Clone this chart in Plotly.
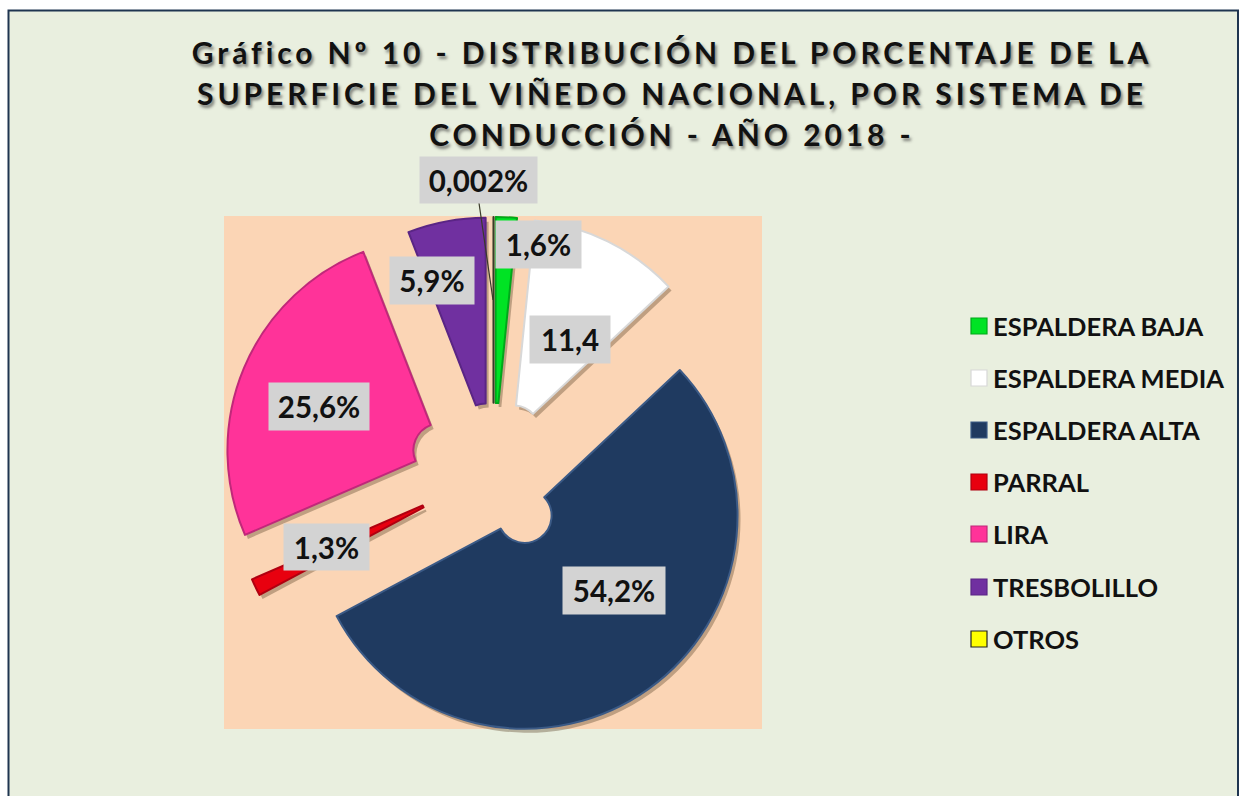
import plotly.graph_objects as go

W, H = 1245, 796

categories = ["ESPALDERA BAJA", "ESPALDERA MEDIA", "ESPALDERA ALTA", "PARRAL", "LIRA", "TRESBOLILLO", "OTROS"]
values = [1.6, 11.4, 54.2, 1.3, 25.6, 5.9, 0.002]
value_labels = ["1,6%", "11,4", "54,2%", "1,3%", "25,6%", "5,9%", "0,002%"]
colors = ["#00E324", "#FFFFFF", "#1F3A60", "#E8000F", "#FF3399", "#7030A0", "#FFFF00"]
edge_colors = ["#00A81A", "#D8D8D8", "#3B5A86", "#B00010", "#C0287A", "#5A2585", "#3A3A2A"]
pulls = [0.20, 0.21, 0.25, 0.24, 0.27, 0.20, 0.20]
title_lines = ["Gráfico Nº 10 - DISTRIBUCIÓN DEL PORCENTAJE DE LA",
               "SUPERFICIE DEL VIÑEDO NACIONAL, POR SISTEMA DE",
               "CONDUCCIÓN - AÑO 2018 -"]

label_boxes = [(538, 245, 85, 47), (570, 339, 80, 47), (614, 590, 102, 47),
               (326, 547, 85, 46), (319, 406, 100, 47), (432, 280, 84, 47), (479, 180, 117, 46)]
legend_ys = [326, 378, 430, 482, 534, 587, 639]


def px(x):
    return x / W


def py(y):
    return 1 - y / H


def pie_domain(dx=0, dy=0):
    return dict(x=[px(223 + dx), px(764 + dx)], y=[py(743 + dy), py(202 + dy)])


fig = go.Figure()
fig.add_trace(go.Pie(values=values, sort=False, direction="clockwise", rotation=0,
                     pull=pulls, hole=0.127, domain=pie_domain(3, 4), textinfo="none",
                     hoverinfo="skip", showlegend=False,
                     marker=dict(colors=["rgba(95,70,45,0.38)"] * 7, line=dict(width=0))))
fig.add_trace(go.Pie(labels=categories, values=values, sort=False, direction="clockwise", rotation=0,
                     pull=pulls, hole=0.127, domain=pie_domain(), textinfo="none", showlegend=False,
                     marker=dict(colors=colors, line=dict(color=edge_colors, width=2))))

shapes = [
    dict(type="rect", xref="paper", yref="paper", x0=px(8.5), x1=px(1238), y0=py(830), y1=py(10.5),
         fillcolor="#E9EFDF", line=dict(color="#1F3550", width=2), layer="below"),
    dict(type="rect", xref="paper", yref="paper", x0=px(224), x1=px(762), y0=py(729), y1=py(216),
         fillcolor="#FBD5B5", line=dict(width=0), layer="below"),
    dict(type="line", xref="paper", yref="paper", x0=px(479), x1=px(493), y0=py(203), y1=py(300),
         line=dict(color="#3A3A2A", width=1.2)),
]
annotations = []
for text, (cx, cy, bw, bh) in zip(value_labels, label_boxes):
    annotations.append(dict(text=text, xref="paper", yref="paper", x=px(cx), y=py(cy),
                            xanchor="center", yanchor="middle", showarrow=False,
                            width=bw, height=bh, bgcolor="#D3D3D3", borderpad=0,
                            font=dict(family="Lato", size=29.5, color="#111111", weight="bold")))
for name, color, edge, ly in zip(categories, colors, edge_colors, legend_ys):
    line_color = "#222222" if name == "OTROS" else edge
    shapes.append(dict(type="rect", xref="paper", yref="paper", x0=px(971), x1=px(987),
                       y0=py(ly + 8), y1=py(ly - 8), fillcolor=color,
                       line=dict(color=line_color, width=1.2)))
    annotations.append(dict(text=name, xref="paper", yref="paper", x=px(991), y=py(ly),
                            xanchor="left", yanchor="middle", showarrow=False,
                            font=dict(family="Lato", size=25.5, color="#111111", weight="bold")))

fig.update_layout(
    width=W, height=H, margin=dict(l=0, r=0, t=0, b=0), paper_bgcolor="#FFFFFF",
    showlegend=False, shapes=shapes, annotations=annotations,
    title=dict(text="<br>".join(title_lines), x=px(672), xanchor="center", y=py(64), yanchor="top",
               font=dict(family="Lato", size=30, color="#111111", weight="bold",
                         shadow="2px 3px 3px rgba(60,60,60,0.6)")),
)

post = """
document.body.style.margin='0';
document.body.style.overflow='hidden';
var st=document.createElement('style');
st.textContent='.gtitle{letter-spacing:3.9px}';
document.head.appendChild(st);
document.querySelectorAll('.gtitle tspan.line').forEach(function(t,i){t.setAttribute('dy',(i*1.37)+'em');});
"""
fig.write_html("out.html", post_script=post, config={"displayModeBar": False})
